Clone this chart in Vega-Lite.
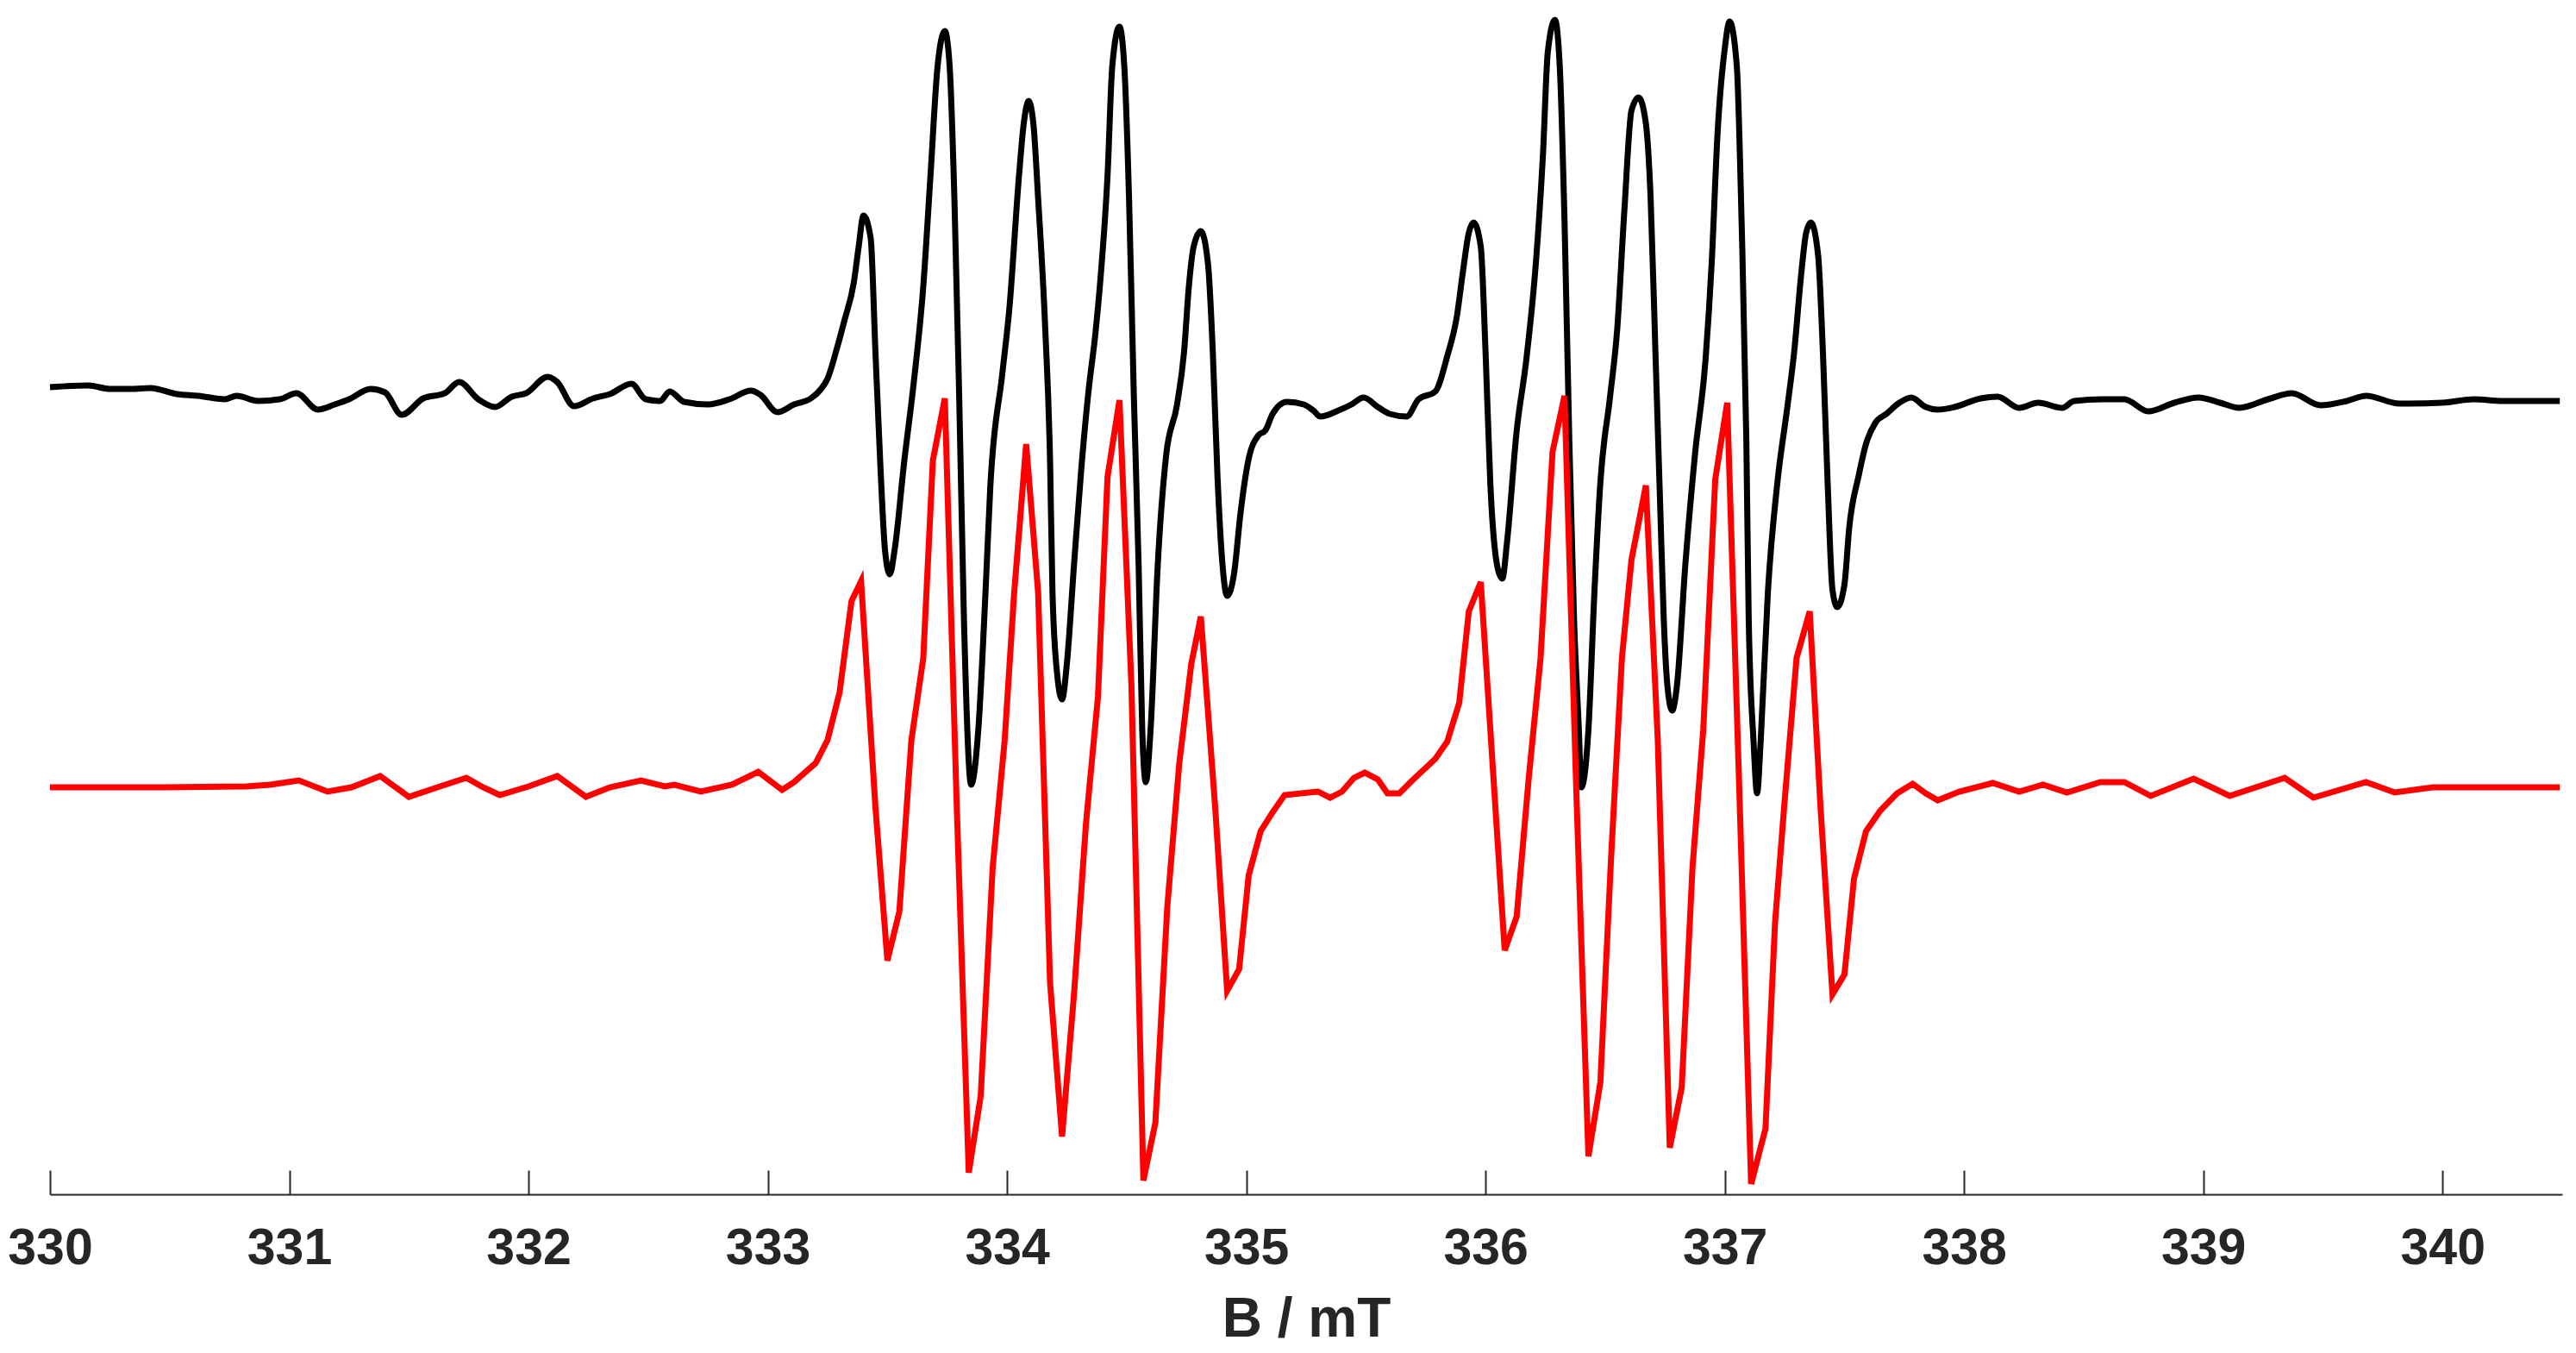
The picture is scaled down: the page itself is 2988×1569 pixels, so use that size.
{
 "$schema": "https://vega.github.io/schema/vega-lite/v6.json",
 "width": 2914,
 "height": 1385,
 "autosize": {"type": "none"},
 "padding": {"left": 58, "top": 0, "right": 16, "bottom": 184},
 "background": "white",
 "config": {"view": {"stroke": null}},
 "datasets": {
  "experimental": [
   {"B":330.00,"intensity":9.36},{"B":330.16,"intensity":9.38},{"B":330.25,"intensity":9.34},{"B":330.34,"intensity":9.34},{"B":330.42,"intensity":9.35},{"B":330.53,"intensity":9.28},{"B":330.62,"intensity":9.26},{"B":330.73,"intensity":9.22},{"B":330.78,"intensity":9.26},{"B":330.87,"intensity":9.20},{"B":330.96,"intensity":9.22},{"B":331.03,"intensity":9.29},{"B":331.12,"intensity":9.10},{"B":331.19,"intensity":9.16},{"B":331.25,"intensity":9.22},{"B":331.34,"intensity":9.34},{"B":331.40,"intensity":9.30},{"B":331.47,"intensity":9.04},{"B":331.56,"intensity":9.23},{"B":331.65,"intensity":9.29},{"B":331.71,"intensity":9.42},{"B":331.79,"intensity":9.22},{"B":331.86,"intensity":9.13},{"B":331.93,"intensity":9.25},{"B":331.99,"intensity":9.29},{"B":332.08,"intensity":9.48},{"B":332.12,"intensity":9.42},{"B":332.19,"intensity":9.14},{"B":332.27,"intensity":9.23},{"B":332.34,"intensity":9.28},{"B":332.43,"intensity":9.40},{"B":332.49,"intensity":9.22},{"B":332.55,"intensity":9.20},{"B":332.59,"intensity":9.31},{"B":332.65,"intensity":9.19},{"B":332.75,"intensity":9.16},{"B":332.84,"intensity":9.22},{"B":332.93,"intensity":9.32},{"B":332.97,"intensity":9.27},{"B":333.04,"intensity":9.07},{"B":333.11,"intensity":9.16},{"B":333.18,"intensity":9.23},{"B":333.22,"intensity":9.33},{"B":333.25,"intensity":9.46},{"B":333.29,"intensity":9.82},{"B":333.32,"intensity":10.13},{"B":333.36,"intensity":10.58},{"B":333.38,"intensity":10.99},{"B":333.40,"intensity":11.35},{"B":333.43,"intensity":11.09},{"B":333.45,"intensity":9.77},{"B":333.47,"intensity":8.49},{"B":333.49,"intensity":7.47},{"B":333.51,"intensity":7.19},{"B":333.53,"intensity":7.47},{"B":333.57,"intensity":8.49},{"B":333.61,"intensity":9.41},{"B":333.65,"intensity":10.53},{"B":333.68,"intensity":11.81},{"B":333.71,"intensity":13.09},{"B":333.74,"intensity":13.49},{"B":333.76,"intensity":13.09},{"B":333.78,"intensity":11.55},{"B":333.80,"intensity":9.26},{"B":333.82,"intensity":6.66},{"B":333.85,"intensity":4.75},{"B":333.88,"intensity":5.39},{"B":333.91,"intensity":6.98},{"B":333.93,"intensity":8.2},{"B":333.98,"intensity":9.51},{"B":334.01,"intensity":10.28},{"B":334.05,"intensity":11.81},{"B":334.07,"intensity":12.42},{"B":334.09,"intensity":12.68},{"B":334.11,"intensity":12.42},{"B":334.13,"intensity":11.55},{"B":334.16,"intensity":10.02},{"B":334.18,"intensity":8.49},{"B":334.19,"intensity":6.98},{"B":334.21,"intensity":6.02},{"B":334.23,"intensity":5.74},{"B":334.25,"intensity":6.15},{"B":334.28,"intensity":7.30},{"B":334.31,"intensity":8.4},{"B":334.34,"intensity":9.3},{"B":334.37,"intensity":10.0},{"B":334.39,"intensity":10.6},{"B":334.42,"intensity":11.81},{"B":334.44,"intensity":13.09},{"B":334.47,"intensity":13.54},{"B":334.49,"intensity":13.09},{"B":334.51,"intensity":11.55},{"B":334.53,"intensity":9.26},{"B":334.55,"intensity":7.30},{"B":334.565,"intensity":5.39},{"B":334.58,"intensity":4.78},{"B":334.60,"intensity":5.39},{"B":334.63,"intensity":7.30},{"B":334.665,"intensity":8.57},{"B":334.71,"intensity":9.15},{"B":334.74,"intensity":9.77},{"B":334.76,"intensity":10.53},{"B":334.78,"intensity":10.99},{"B":334.81,"intensity":11.17},{"B":334.84,"intensity":10.79},{"B":334.86,"intensity":9.77},{"B":334.88,"intensity":8.3},{"B":334.90,"intensity":7.32},{"B":334.92,"intensity":6.94},{"B":334.95,"intensity":7.22},{"B":334.975,"intensity":7.88},{"B":335.01,"intensity":8.53},{"B":335.05,"intensity":8.80},{"B":335.08,"intensity":8.86},{"B":335.11,"intensity":9.05},{"B":335.17,"intensity":9.19},{"B":335.24,"intensity":9.16},{"B":335.28,"intensity":9.09},{"B":335.31,"intensity":9.02},{"B":335.385,"intensity":9.09},{"B":335.44,"intensity":9.16},{"B":335.49,"intensity":9.24},{"B":335.55,"intensity":9.13},{"B":335.60,"intensity":9.05},{"B":335.67,"intensity":9.02},{"B":335.72,"intensity":9.22},{"B":335.79,"intensity":9.31},{"B":335.84,"intensity":9.72},{"B":335.88,"intensity":10.18},{"B":335.905,"intensity":10.69},{"B":335.93,"intensity":11.15},{"B":335.95,"intensity":11.27},{"B":335.98,"intensity":10.99},{"B":336.00,"intensity":9.77},{"B":336.02,"intensity":8.24},{"B":336.05,"intensity":7.27},{"B":336.07,"intensity":7.14},{"B":336.09,"intensity":7.57},{"B":336.13,"intensity":8.85},{"B":336.17,"intensity":9.67},{"B":336.21,"intensity":10.79},{"B":336.24,"intensity":12.06},{"B":336.26,"intensity":13.24},{"B":336.29,"intensity":13.62},{"B":336.31,"intensity":13.09},{"B":336.33,"intensity":11.30},{"B":336.35,"intensity":8.75},{"B":336.37,"intensity":6.66},{"B":336.39,"intensity":5.39},{"B":336.40,"intensity":4.72},{"B":336.43,"intensity":5.39},{"B":336.455,"intensity":6.98},{"B":336.48,"intensity":8.26},{"B":336.52,"intensity":9.24},{"B":336.55,"intensity":10.02},{"B":336.58,"intensity":11.40},{"B":336.61,"intensity":12.57},{"B":336.64,"intensity":12.72},{"B":336.67,"intensity":12.42},{"B":336.69,"intensity":11.55},{"B":336.71,"intensity":9.77},{"B":336.73,"intensity":7.98},{"B":336.745,"intensity":6.66},{"B":336.76,"intensity":5.90},{"B":336.78,"intensity":5.61},{"B":336.80,"intensity":5.90},{"B":336.835,"intensity":7.30},{"B":336.875,"intensity":8.57},{"B":336.92,"intensity":9.70},{"B":336.945,"intensity":10.79},{"B":336.97,"intensity":12.32},{"B":337.00,"intensity":13.29},{"B":337.02,"intensity":13.60},{"B":337.05,"intensity":13.09},{"B":337.07,"intensity":11.30},{"B":337.09,"intensity":8.75},{"B":337.10,"intensity":6.66},{"B":337.12,"intensity":5.26},{"B":337.135,"intensity":4.65},{"B":337.15,"intensity":5.26},{"B":337.18,"intensity":6.98},{"B":337.22,"intensity":8.26},{"B":337.26,"intensity":9.10},{"B":337.29,"intensity":9.77},{"B":337.32,"intensity":10.69},{"B":337.34,"intensity":11.15},{"B":337.36,"intensity":11.27},{"B":337.39,"intensity":10.89},{"B":337.41,"intensity":9.77},{"B":337.43,"intensity":8.24},{"B":337.45,"intensity":7.01},{"B":337.47,"intensity":6.81},{"B":337.50,"intensity":7.07},{"B":337.52,"intensity":7.73},{"B":337.56,"intensity":8.34},{"B":337.59,"intensity":8.70},{"B":337.63,"intensity":8.95},{"B":337.675,"intensity":9.05},{"B":337.73,"intensity":9.18},{"B":337.78,"intensity":9.24},{"B":337.84,"intensity":9.13},{"B":337.89,"intensity":9.10},{"B":337.96,"intensity":9.13},{"B":338.07,"intensity":9.23},{"B":338.14,"intensity":9.25},{"B":338.23,"intensity":9.12},{"B":338.31,"intensity":9.18},{"B":338.41,"intensity":9.12},{"B":338.46,"intensity":9.20},{"B":338.58,"intensity":9.22},{"B":338.67,"intensity":9.22},{"B":338.77,"intensity":9.08},{"B":338.88,"intensity":9.18},{"B":338.98,"intensity":9.24},{"B":339.07,"intensity":9.18},{"B":339.15,"intensity":9.12},{"B":339.27,"intensity":9.22},{"B":339.37,"intensity":9.29},{"B":339.49,"intensity":9.15},{"B":339.60,"intensity":9.20},{"B":339.68,"intensity":9.26},{"B":339.82,"intensity":9.17},{"B":340.00,"intensity":9.18},{"B":340.13,"intensity":9.22},{"B":340.25,"intensity":9.20},{"B":340.37,"intensity":9.20},{"B":340.49,"intensity":9.20}
  ],
  "simulated": [
   {"B":330.00,"intensity":4.72},{"B":330.48,"intensity":4.72},{"B":330.82,"intensity":4.73},{"B":330.92,"intensity":4.75},{"B":331.04,"intensity":4.80},{"B":331.16,"intensity":4.67},{"B":331.26,"intensity":4.72},{"B":331.38,"intensity":4.85},{"B":331.50,"intensity":4.61},{"B":331.63,"intensity":4.73},{"B":331.74,"intensity":4.83},{"B":331.81,"intensity":4.72},{"B":331.88,"intensity":4.63},{"B":332.00,"intensity":4.73},{"B":332.12,"intensity":4.85},{"B":332.24,"intensity":4.61},{"B":332.34,"intensity":4.72},{"B":332.47,"intensity":4.80},{"B":332.57,"intensity":4.73},{"B":332.61,"intensity":4.75},{"B":332.72,"intensity":4.67},{"B":332.85,"intensity":4.75},{"B":332.96,"intensity":4.90},{"B":333.06,"intensity":4.69},{"B":333.11,"intensity":4.78},{"B":333.20,"intensity":5.00},{"B":333.25,"intensity":5.27},{"B":333.30,"intensity":5.82},{"B":333.35,"intensity":6.88},{"B":333.39,"intensity":7.11},{"B":333.45,"intensity":4.49},{"B":333.50,"intensity":2.71},{"B":333.55,"intensity":3.28},{"B":333.60,"intensity":5.26},{"B":333.65,"intensity":6.22},{"B":333.69,"intensity":8.51},{"B":333.74,"intensity":9.23},{"B":333.79,"intensity":4.49},{"B":333.84,"intensity":0.25},{"B":333.89,"intensity":1.14},{"B":333.94,"intensity":3.79},{"B":333.99,"intensity":5.26},{"B":334.03,"intensity":6.98},{"B":334.08,"intensity":8.70},{"B":334.13,"intensity":6.98},{"B":334.18,"intensity":2.45},{"B":334.23,"intensity":0.67},{"B":334.28,"intensity":2.32},{"B":334.33,"intensity":4.30},{"B":334.38,"intensity":5.77},{"B":334.42,"intensity":8.32},{"B":334.47,"intensity":9.21},{"B":334.52,"intensity":5.90},{"B":334.57,"intensity":0.16},{"B":334.62,"intensity":0.83},{"B":334.67,"intensity":3.34},{"B":334.72,"intensity":5.00},{"B":334.77,"intensity":6.15},{"B":334.81,"intensity":6.70},{"B":334.87,"intensity":4.49},{"B":334.92,"intensity":2.36},{"B":334.97,"intensity":2.61},{"B":335.01,"intensity":3.70},{"B":335.06,"intensity":4.21},{"B":335.11,"intensity":4.43},{"B":335.16,"intensity":4.63},{"B":335.30,"intensity":4.67},{"B":335.35,"intensity":4.60},{"B":335.40,"intensity":4.67},{"B":335.45,"intensity":4.83},{"B":335.495,"intensity":4.89},{"B":335.55,"intensity":4.81},{"B":335.59,"intensity":4.65},{"B":335.64,"intensity":4.65},{"B":335.69,"intensity":4.79},{"B":335.74,"intensity":4.92},{"B":335.79,"intensity":5.05},{"B":335.84,"intensity":5.25},{"B":335.89,"intensity":5.70},{"B":335.93,"intensity":6.76},{"B":335.98,"intensity":7.10},{"B":336.08,"intensity":2.83},{"B":336.13,"intensity":3.22},{"B":336.18,"intensity":4.81},{"B":336.23,"intensity":6.22},{"B":336.28,"intensity":8.61},{"B":336.33,"intensity":9.26},{"B":336.38,"intensity":4.62},{"B":336.43,"intensity":0.44},{"B":336.48,"intensity":1.30},{"B":336.525,"intensity":3.92},{"B":336.57,"intensity":6.22},{"B":336.61,"intensity":7.36},{"B":336.67,"intensity":8.22},{"B":336.72,"intensity":5.26},{"B":336.77,"intensity":0.54},{"B":336.82,"intensity":1.24},{"B":336.865,"intensity":3.79},{"B":336.91,"intensity":5.39},{"B":336.96,"intensity":8.29},{"B":337.01,"intensity":9.18},{"B":337.06,"intensity":4.75},{"B":337.11,"intensity":0.12},{"B":337.17,"intensity":0.76},{"B":337.21,"intensity":3.15},{"B":337.25,"intensity":4.56},{"B":337.30,"intensity":6.22},{"B":337.355,"intensity":6.76},{"B":337.40,"intensity":4.49},{"B":337.45,"intensity":2.32},{"B":337.50,"intensity":2.55},{"B":337.54,"intensity":3.66},{"B":337.59,"intensity":4.21},{"B":337.65,"intensity":4.45},{"B":337.72,"intensity":4.65},{"B":337.785,"intensity":4.76},{"B":337.84,"intensity":4.65},{"B":337.89,"intensity":4.57},{"B":337.98,"intensity":4.67},{"B":338.12,"intensity":4.77},{"B":338.23,"intensity":4.67},{"B":338.33,"intensity":4.75},{"B":338.43,"intensity":4.66},{"B":338.57,"intensity":4.78},{"B":338.67,"intensity":4.78},{"B":338.78,"intensity":4.62},{"B":338.96,"intensity":4.82},{"B":339.11,"intensity":4.62},{"B":339.34,"intensity":4.83},{"B":339.46,"intensity":4.60},{"B":339.68,"intensity":4.78},{"B":339.80,"intensity":4.66},{"B":339.96,"intensity":4.72},{"B":340.49,"intensity":4.72}
  ]
 },
 "layer": [
  {
   "data": {"name": "experimental"},
   "mark": {"type": "line", "color": "#000000", "strokeWidth": 7, "interpolate": "monotone", "strokeJoin": "round"},
   "encoding": {
    "x": {
     "field": "B", "type": "quantitative",
     "scale": {"domain": [330, 340.5], "nice": false, "zero": false},
     "axis": {
      "title": "B / mT",
      "values": [330, 331, 332, 333, 334, 335, 336, 337, 338, 339, 340],
      "format": "d",
      "grid": false,
      "domainColor": "#262626", "domainWidth": 2,
      "tickColor": "#262626", "tickWidth": 2, "tickSize": -28,
      "labelFont": "Liberation Sans", "labelFontSize": 59, "labelFontWeight": "bold", "labelColor": "#262626",
      "labelPadding": 61, "labelFlush": false, "labelOverlap": false,
      "titleFont": "Liberation Sans", "titleFontSize": 64, "titleFontWeight": "bold", "titleColor": "#262626",
      "titleBaseline": "alphabetic", "titleY": 164
     }
    },
    "y": {"field": "intensity", "type": "quantitative", "scale": {"domain": [0, 13.85], "nice": false, "zero": false}, "axis": null}
   }
  },
  {
   "data": {"name": "simulated"},
   "mark": {"type": "line", "color": "#ff0000", "strokeWidth": 7},
   "encoding": {
    "x": {"field": "B", "type": "quantitative"},
    "y": {"field": "intensity", "type": "quantitative"}
   }
  }
 ]
}
